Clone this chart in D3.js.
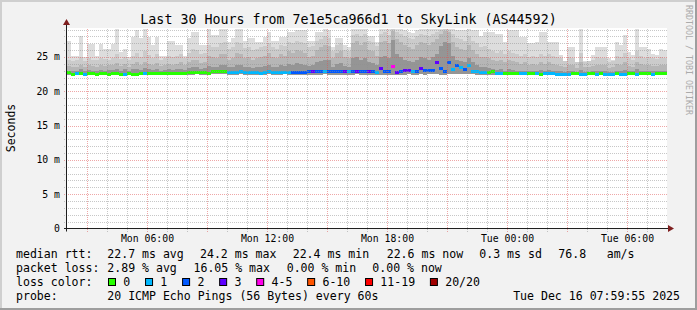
<!DOCTYPE html>
<html>
<head>
<meta charset="utf-8">
<script src="https://cdn.jsdelivr.net/npm/d3@7"></script>
<style>
body { margin: 0; background: #f2f2f2; }
text { font-family: "DejaVu Sans Mono", monospace; }
</style>
</head>
<body>
<div id="smoke-chart"></div>
<script>
// 12 minute buckets, Mon 02:00 -> Tue 08:00
const startTime = new Date(2025, 11, 15, 2, 0);
const endTime = new Date(2025, 11, 16, 8, 0);
const stepMinutes = 12;

// median rtt per bucket (ms)
const medianRtt = [
  22.8, 22.5, 22.7, 22.6, 22.5, 22.6, 22.6, 22.5, 22.6, 22.6,
  22.5, 22.6, 22.6, 22.5, 22.5, 22.6, 22.5, 22.5, 22.6, 22.6,
  22.6, 22.7, 22.6, 22.6, 22.7, 22.7, 22.6, 22.7, 22.7, 22.7,
  22.8, 22.8, 22.8, 22.8, 22.8, 22.7, 22.9, 22.9, 23.0, 23.0,
  22.8, 22.8, 22.8, 22.9, 22.8, 22.8, 22.8, 22.8, 22.6, 22.8,
  22.9, 22.85, 22.85, 22.85, 22.85, 22.85, 22.8, 22.8, 22.8, 22.85,
  22.9, 23.0, 22.9, 22.9, 22.9, 22.9, 22.95, 22.9, 22.9, 23.0,
  22.9, 22.95, 23.0, 22.9, 22.9, 23.0, 22.9, 22.8, 23.35, 22.95,
  22.9, 23.75, 22.75, 22.9, 23.1, 23.1, 22.9, 23.0, 23.45, 23.1,
  23.15, 23.15, 24.2, 23.4, 22.9, 24.2, 23.3, 23.9, 23.5, 23.3,
  23.8, 22.95, 22.95, 22.8, 22.75, 22.85, 22.9, 22.7, 22.7, 22.65,
  22.65, 22.7, 22.65, 22.6, 22.6, 22.65, 22.65, 22.6, 22.5, 22.6,
  22.6, 22.6, 22.55, 22.55, 22.55, 22.55, 22.6, 22.6, 22.55, 22.55,
  22.6, 22.6, 22.55, 22.6, 22.55, 22.55, 22.55, 22.6, 22.55, 22.55,
  22.6, 22.6, 22.55, 22.6, 22.6, 22.7, 22.55, 22.65, 22.7, 22.7
];

// lost pings out of 20 per bucket
const lostPings = [
  0, 0, 1, 0, 1, 0, 0, 0, 0, 0,
  0, 0, 0, 0, 1, 0, 0, 0, 0, 1,
  0, 0, 0, 0, 0, 0, 0, 0, 0, 0,
  0, 0, 0, 0, 0, 0, 0, 0, 0, 0,
  1, 1, 1, 1, 1, 1, 1, 1, 1, 1,
  1, 1, 1, 1, 1, 1, 2, 2, 2, 2,
  2, 3, 2, 2, 1, 2, 2, 2, 2, 3,
  1, 2, 3, 2, 2, 3, 2, 1, 3, 2,
  2, 4, 3, 2, 3, 3, 1, 2, 3, 2,
  2, 2, 3, 2, 2, 2, 1, 2, 1, 2,
  1, 1, 1, 1, 1, 0, 0, 1, 1, 0,
  0, 0, 0, 1, 1, 0, 0, 1, 0, 1,
  1, 1, 1, 1, 1, 1, 0, 0, 1, 1,
  0, 0, 1, 0, 1, 1, 1, 0, 1, 1,
  0, 0, 1, 0, 0, 0, 1, 0, 0, 0
];

// smoke: sorted ping levels per bucket (ms)
const smokeMax = [
  27.4, 25.2, 25.2, 28.1, 25.0, 26.9, 26.9, 25.2, 26.9, 26.2,
  26.2, 26.9, 29.2, 25.7, 26.2, 25.0, 27.9, 28.9, 27.7, 29.2,
  27.9, 26.7, 27.9, 25.2, 25.2, 27.4, 27.4, 26.7, 26.7, 25.2,
  27.7, 28.7, 28.7, 26.7, 26.7, 29.1, 28.2, 28.2, 29.1, 29.1,
  27.2, 27.7, 29.1, 29.1, 27.4, 27.7, 27.7, 27.2, 27.2, 27.9,
  28.7, 27.4, 27.4, 27.9, 27.9, 28.7, 28.7, 28.9, 28.9, 28.9,
  27.4, 27.4, 28.7, 28.7, 29.1, 28.9, 26.5, 27.7, 27.7, 26.7,
  26.5, 29.1, 29.1, 29.1, 29.1, 28.1, 28.1, 27.2, 29.1, 29.1,
  29.1, 29.2, 29.1, 29.1, 28.9, 28.7, 28.5, 28.9, 29.1, 29.1,
  29.1, 29.1, 29.1, 29.2, 29.2, 29.2, 29.1, 28.9, 28.9, 28.9,
  29.1, 28.9, 28.9, 28.1, 28.7, 28.7, 28.7, 28.4, 28.4, 27.2,
  29.0, 29.0, 28.9, 27.9, 27.9, 27.0, 27.0, 27.2, 28.6, 28.6,
  27.2, 27.2, 27.2, 25.3, 24.4, 26.5, 26.5, 24.2, 29.1, 24.4,
  24.4, 25.3, 26.5, 26.5, 26.5, 24.8, 24.6, 27.2, 26.7, 28.2,
  25.7, 25.3, 29.2, 26.5, 26.5, 26.2, 25.5, 25.3, 26.2, 26.0
];
const smokeP19 = [
  24.6, 24.4, 24.5, 25.0, 24.4, 24.8, 24.6, 24.5, 24.8, 24.7,
  24.6, 24.9, 25.4, 24.7, 25.0, 24.5, 25.2, 25.6, 25.0, 25.8,
  25.3, 24.8, 25.4, 24.6, 24.8, 25.2, 25.0, 25.2, 25.4, 24.9,
  25.6, 26.2, 26.0, 25.4, 25.6, 26.8, 26.5, 26.4, 27.0, 27.2,
  26.2, 26.4, 27.2, 27.0, 26.3, 26.5, 26.0, 26.2, 26.4, 26.6,
  27.0, 26.4, 26.2, 26.8, 26.6, 27.2, 27.0, 27.4, 27.2, 27.0,
  26.4, 26.6, 27.4, 27.6, 28.0, 27.8, 25.8, 26.8, 27.0, 26.0,
  25.8, 28.2, 28.4, 28.0, 28.4, 27.4, 27.2, 26.6, 28.4, 28.6,
  28.2, 29.1, 28.6, 28.4, 28.0, 27.8, 27.6, 28.0, 28.4, 28.2,
  28.0, 28.4, 28.6, 29.0, 29.1, 29.0, 28.4, 27.8, 27.6, 27.4,
  28.0, 27.4, 27.0, 26.4, 26.6, 26.2, 25.8, 25.6, 25.8, 25.4,
  25.8, 25.6, 25.4, 25.2, 25.4, 25.0, 25.2, 25.0, 25.4, 25.2,
  25.4, 25.2, 25.0, 24.8, 24.4, 25.0, 24.9, 24.2, 25.6, 24.3,
  24.4, 24.6, 25.0, 24.8, 24.9, 24.3, 24.4, 25.2, 25.0, 25.6,
  24.8, 24.6, 25.8, 25.2, 24.9, 25.0, 24.8, 24.7, 25.0, 24.9
];
const smokeP17 = [
  23.7, 23.6, 23.6, 23.9, 23.5, 23.8, 23.7, 23.6, 23.8, 23.7,
  23.8, 23.8, 24.1, 23.7, 24.0, 23.6, 24.0, 24.2, 23.9, 24.3,
  24.0, 23.8, 24.1, 23.7, 23.8, 24.0, 23.9, 24.0, 24.2, 23.8,
  24.3, 24.6, 24.5, 24.1, 24.3, 25.2, 25.0, 24.8, 25.4, 25.5,
  24.6, 24.8, 25.6, 25.4, 24.8, 25.0, 24.6, 24.8, 25.0, 25.2,
  25.6, 25.0, 24.8, 25.4, 25.2, 25.8, 25.6, 26.0, 25.8, 25.6,
  25.0, 25.2, 26.0, 26.4, 26.8, 26.6, 24.8, 25.6, 25.8, 25.0,
  24.8, 27.0, 27.4, 26.8, 27.2, 26.0, 25.8, 25.2, 27.2, 27.4,
  27.0, 28.8, 27.6, 27.2, 26.8, 26.4, 26.2, 26.8, 27.2, 27.0,
  26.8, 27.2, 27.6, 28.4, 28.8, 28.6, 27.2, 26.4, 26.2, 26.0,
  26.8, 26.0, 25.4, 25.0, 25.0, 24.8, 24.5, 24.4, 24.5, 24.2,
  24.5, 24.4, 24.2, 24.0, 24.2, 23.9, 24.0, 23.9, 24.2, 24.0,
  24.2, 24.0, 23.9, 23.7, 23.5, 23.9, 23.8, 23.4, 24.2, 23.5,
  23.5, 23.7, 23.9, 23.8, 23.8, 23.4, 23.5, 24.0, 23.9, 24.2,
  23.7, 23.6, 24.3, 24.0, 23.8, 23.9, 23.7, 23.7, 23.9, 23.8
];
const smokeP14 = [
  23.0, 22.9, 23.0, 23.2, 22.9, 23.1, 23.0, 22.9, 23.1, 23.0,
  23.1, 23.1, 23.3, 23.0, 23.2, 22.9, 23.2, 23.3, 23.1, 23.4,
  23.2, 23.1, 23.3, 23.0, 23.1, 23.2, 23.1, 23.2, 23.3, 23.1,
  23.4, 23.5, 23.5, 23.3, 23.4, 23.7, 23.6, 23.5, 23.8, 23.9,
  23.5, 23.6, 23.9, 23.8, 23.5, 23.6, 23.4, 23.5, 23.6, 23.7,
  23.9, 23.6, 23.5, 23.8, 23.7, 24.0, 23.9, 24.1, 24.0, 23.9,
  23.7, 23.8, 24.2, 24.4, 24.6, 24.5, 23.6, 24.0, 24.1, 23.7,
  23.6, 24.8, 25.0, 24.6, 24.9, 24.2, 24.1, 23.8, 25.0, 25.2,
  24.8, 27.5, 25.4, 25.0, 24.6, 24.4, 24.2, 24.6, 25.0, 24.8,
  24.6, 25.0, 25.4, 26.6, 27.2, 27.0, 25.2, 24.6, 24.4, 24.2,
  24.8, 24.2, 23.8, 23.5, 23.5, 23.4, 23.2, 23.1, 23.2, 23.0,
  23.2, 23.1, 23.0, 22.9, 23.0, 22.9, 23.0, 22.9, 23.1, 23.0,
  23.1, 23.0, 22.9, 22.9, 22.8, 23.0, 22.9, 22.8, 23.1, 22.8,
  22.8, 22.9, 23.0, 22.9, 22.9, 22.8, 22.8, 23.0, 23.0, 23.1,
  22.9, 22.9, 23.2, 23.0, 22.9, 23.0, 22.9, 22.9, 23.0, 22.9
];
const smokeMin = [
  22.4, 22.3, 22.4, 22.3, 22.3, 22.3, 22.4, 22.3, 22.3, 22.3,
  22.3, 22.3, 22.3, 22.3, 22.3, 22.4, 22.3, 22.3, 22.3, 22.3,
  22.4, 22.4, 22.3, 22.3, 22.4, 22.4, 22.3, 22.4, 22.4, 22.4,
  22.4, 22.4, 22.5, 22.4, 22.4, 22.4, 22.5, 22.5, 22.5, 22.5,
  22.4, 22.4, 22.4, 22.5, 22.4, 22.4, 22.4, 22.4, 22.3, 22.4,
  22.5, 22.4, 22.4, 22.4, 22.5, 22.4, 22.4, 22.4, 22.4, 22.4,
  22.4, 22.4, 22.4, 22.4, 22.5, 22.4, 22.4, 22.4, 22.4, 22.4,
  22.4, 22.4, 22.5, 22.4, 22.4, 22.4, 22.4, 22.3, 22.4, 22.4,
  22.4, 22.4, 22.3, 22.4, 22.4, 22.5, 22.4, 22.4, 22.5, 22.4,
  22.5, 22.5, 22.5, 22.4, 22.4, 22.5, 22.5, 22.5, 22.5, 22.5,
  22.5, 22.5, 22.4, 22.4, 22.4, 22.4, 22.4, 22.3, 22.3, 22.3,
  22.3, 22.3, 22.3, 22.3, 22.3, 22.3, 22.3, 22.3, 22.2, 22.3,
  22.3, 22.3, 22.2, 22.2, 22.2, 22.2, 22.3, 22.3, 22.2, 22.2,
  22.3, 22.3, 22.2, 22.3, 22.2, 22.2, 22.2, 22.3, 22.2, 22.2,
  22.3, 22.3, 22.2, 22.3, 22.3, 22.4, 22.2, 22.3, 22.4, 22.4
];

const lossLabels = ["0", "1", "2", "3", "4-5", "6-10", "11-19", "20/20"];
const lossUpper = [0, 1, 2, 3, 5, 10, 19, 20];
const lossColors = ["#26ff00", "#00b8ff", "#0059ff", "#5e00ff", "#ff00ea", "#ff5500", "#ff0000", "#a10000"];

const yTickValues = [0, 5, 10, 15, 20, 25];
const yTickLabels = ["0", "5 m", "10 m", "15 m", "20 m", "25 m"];
const xTickLabels = ["Mon 06:00", "Mon 12:00", "Mon 18:00", "Tue 00:00", "Tue 06:00"];

const rttStats = ["22.7 ms avg", "24.2 ms max", "22.4 ms min", "22.6 ms now", "0.3 ms sd", "76.8", "am/s"];
const lossStats = ["2.89 % avg", "16.05 % max", "0.00 % min", "0.00 % now"];

function SmokeChart(){
    let self = this;
    self.init();
};

SmokeChart.prototype.init = function(){
    let self = this;
    self.svgWidth = 697;
    self.svgHeight = 310;
    self.plot = {left: 67, right: 667, top: 28.5, bottom: 228.5};

    let div = d3.select("#smoke-chart").html("");
    self.svg = div.append("svg")
        .attr("width", self.svgWidth)
        .attr("height", self.svgHeight);

    self.x = d3.scaleTime()
        .domain([startTime, endTime])
        .range([self.plot.left, self.plot.right]);

    self.y = d3.scaleLinear()
        .domain([0, 29.15])
        .range([self.plot.bottom, self.plot.top])
        .clamp(true);

    self.drawFrame();
    self.drawSmoke();
    self.drawGrid();
    self.drawAxes();
    self.drawLegend();
};

SmokeChart.prototype.drawFrame = function(){
    let self = this;
    let svg = self.svg;
    svg.append("rect").attr("width", 697).attr("height", 310).attr("fill", "#f2f2f2");
    // rrdtool style shading
    svg.append("rect").attr("x", 0).attr("y", 0).attr("width", 697).attr("height", 2).attr("fill", "#cfcfcf");
    svg.append("rect").attr("x", 0).attr("y", 0).attr("width", 2).attr("height", 310).attr("fill", "#cfcfcf");
    svg.append("rect").attr("x", 0).attr("y", 308).attr("width", 697).attr("height", 2).attr("fill", "#9e9e9e");
    svg.append("rect").attr("x", 695).attr("y", 0).attr("width", 2).attr("height", 310).attr("fill", "#9e9e9e");

    svg.append("rect")
        .attr("x", self.plot.left)
        .attr("y", 28)
        .attr("width", self.plot.right - self.plot.left)
        .attr("height", 201)
        .attr("fill", "#ffffff");

    svg.append("text")
        .attr("x", 348.5)
        .attr("y", 23.5)
        .attr("text-anchor", "middle")
        .style("font-size", "13.3px")
        .text("Last 30 Hours from 7e1e5ca966d1 to SkyLink (AS44592)");

    svg.append("text")
        .attr("transform", "translate(14.5,128) rotate(-90)")
        .attr("text-anchor", "middle")
        .style("font-size", "11.5px")
        .text("Seconds");

    svg.append("text")
        .attr("transform", "translate(685.5,5) rotate(90)")
        .style("font-size", "8.3px")
        .attr("fill", "#ababab")
        .text("RRDTOOL / TOBI OETIKER");
};

SmokeChart.prototype.colTime = function(i){
    return d3.timeMinute.offset(startTime, i * stepMinutes);
};

SmokeChart.prototype.drawSmoke = function(){
    let self = this;
    let x = self.x, y = self.y;
    let g = self.svg.append("g").attr("shape-rendering", "crispEdges");

    let bands = [
        {top: smokeMax, color: "#dddddd"},
        {top: smokeP19, color: "#cbcbcb"},
        {top: smokeP17, color: "#b6b6b6"},
        {top: smokeP14, color: "#959595"}
    ];

    bands.forEach(function(b){
        g.append("g")
            .selectAll("rect")
            .data(b.top)
            .enter()
            .append("rect")
            .attr("x", (d, i) => x(self.colTime(i)))
            .attr("width", (d, i) => x(self.colTime(i + 1)) - x(self.colTime(i)))
            .attr("y", (d) => Math.round(y(d)))
            .attr("height", (d, i) => Math.max(0, Math.round(y(smokeMin[i])) - Math.round(y(d))))
            .attr("fill", b.color);
    });

    // median, coloured by loss
    g.append("g")
        .selectAll("rect")
        .data(medianRtt)
        .enter()
        .append("rect")
        .attr("x", (d, i) => x(self.colTime(i)))
        .attr("width", (d, i) => x(self.colTime(i + 1)) - x(self.colTime(i)))
        .attr("y", (d) => Math.round(y(d)) - 1.5)
        .attr("height", 3)
        .attr("fill", (d, i) => lossColors[lossUpper.findIndex((u) => lostPings[i] <= u)]);
};

SmokeChart.prototype.drawGrid = function(){
    let self = this;
    let x = self.x, y = self.y, p = self.plot;
    let g = self.svg.append("g").attr("shape-rendering", "crispEdges");
    let minorColor = "rgba(143,143,143,0.5)";
    let majorColor = "rgba(222,80,80,0.5)";

    let hLines = d3.range(1, 30).filter((v) => y(v) > p.top);
    g.selectAll(".hgrid")
        .data(hLines)
        .enter()
        .append("line")
        .attr("x1", p.left - 3)
        .attr("x2", p.right)
        .attr("y1", (d) => Math.round(y(d)) + 0.5)
        .attr("y2", (d) => Math.round(y(d)) + 0.5)
        .attr("stroke", (d) => d % 5 == 0 ? majorColor : minorColor)
        .attr("stroke-dasharray", "1,1");

    let hours = d3.timeHour.every(1).range(d3.timeHour.offset(startTime, 1), endTime);
    g.selectAll(".vgrid")
        .data(hours)
        .enter()
        .append("line")
        .attr("x1", (d) => Math.round(x(d)) + 0.5)
        .attr("x2", (d) => Math.round(x(d)) + 0.5)
        .attr("y1", p.top)
        .attr("y2", p.bottom + 3)
        .attr("stroke", (d) => d.getHours() % 3 == 0 ? majorColor : minorColor)
        .attr("stroke-dasharray", "1,1");
};

SmokeChart.prototype.drawAxes = function(){
    let self = this;
    let x = self.x, y = self.y, p = self.plot;
    let g = self.svg.append("g");

    g.append("line")
        .attr("x1", p.left - 3).attr("x2", p.right + 2)
        .attr("y1", p.bottom).attr("y2", p.bottom)
        .attr("stroke", "#1f1f1f");
    g.append("line")
        .attr("x1", p.left - 0.5).attr("x2", p.left - 0.5)
        .attr("y1", p.bottom + 3).attr("y2", p.top - 4)
        .attr("stroke", "#1f1f1f");

    // arrows
    g.append("path")
        .attr("d", `M${p.right + 1},${p.bottom - 3.5} L${p.right + 7},${p.bottom} L${p.right + 1},${p.bottom + 3.5} Z`)
        .attr("fill", "#7f1f1f");
    g.append("path")
        .attr("d", `M${p.left - 4},${p.top - 3.5} L${p.left - 0.5},${p.top - 9.5} L${p.left + 3},${p.top - 3.5} Z`)
        .attr("fill", "#7f1f1f");

    g.selectAll(".ylab")
        .data(yTickValues)
        .enter()
        .append("text")
        .attr("x", 60)
        .attr("y", (d) => y(d) + 3.5)
        .attr("text-anchor", "end")
        .style("font-size", "9.8px")
        .text((d, i) => yTickLabels[i]);

    let majorTimes = d3.timeHour.every(6).range(startTime, endTime);
    g.selectAll(".xlab")
        .data(majorTimes)
        .enter()
        .append("text")
        .attr("x", (d) => x(d) + 0.5)
        .attr("y", 241.5)
        .attr("text-anchor", "middle")
        .style("font-size", "9.8px")
        .text((d, i) => xTickLabels[i]);
};

SmokeChart.prototype.drawLegend = function(){
    let self = this;
    let g = self.svg.append("g").style("font-size", "11.55px");
    let col1 = 107.3;

    g.append("text").attr("x", 16).attr("y", 258).text("median rtt:");
    let rttX = [col1, 200, 292.7, 386.7, 479.3, 558.3, 606.7];
    rttStats.forEach(function(s, i){
        g.append("text").attr("x", rttX[i]).attr("y", 258).text(s);
    });

    g.append("text").attr("x", 16).attr("y", 272).text("packet loss:");
    let lossX = [col1, 193.5, 286.7, 372.3];
    lossStats.forEach(function(s, i){
        g.append("text").attr("x", lossX[i]).attr("y", 272).text(s);
    });

    g.append("text").attr("x", 16).attr("y", 286).text("loss color:");
    let bx = 108.5;
    lossLabels.forEach(function(l, i){
        g.append("rect")
            .attr("x", bx).attr("y", 278.5)
            .attr("width", 7).attr("height", 7)
            .attr("fill", lossColors[i])
            .attr("stroke", "#000")
            .attr("stroke-width", 1);
        g.append("text").attr("x", bx + 14.8).attr("y", 286).text(l);
        bx += 14.8 + l.length * 6.95 + 15.3;
    });

    g.append("text").attr("x", 16).attr("y", 300).text("probe:");
    g.append("text").attr("x", col1).attr("y", 300).text("20 ICMP Echo Pings (56 Bytes) every 60s");
    g.append("text").attr("x", 680).attr("y", 300).attr("text-anchor", "end").text("Tue Dec 16 07:59:55 2025");
};

new SmokeChart();
</script>
</body>
</html>
